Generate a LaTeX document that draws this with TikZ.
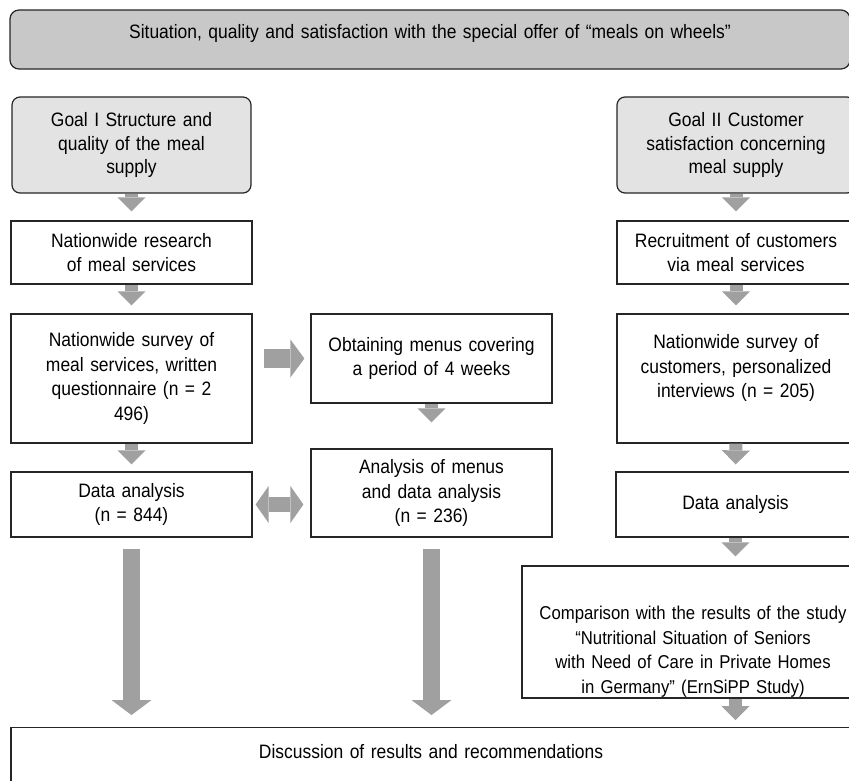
\documentclass[tikz,border=0pt]{standalone}
\usepackage{fontspec}
\setmainfont[FakeStretch=0.9]{Liberation Sans}
\usetikzlibrary{arrows.meta}
\definecolor{topgray}{HTML}{C8C8C8}
\definecolor{goalgray}{HTML}{E3E3E3}
\definecolor{arrgray}{HTML}{A0A0A0}
\definecolor{edgec}{HTML}{262626}
\newcommand{\boxfont}{\fontsize{19.4}{24.5}\selectfont}
\newcommand{\goalfont}{\fontsize{19.4}{23.5}\selectfont}
\newcommand{\compfont}{\fontsize{18.6}{24.8}\selectfont}
\tikzset{
  box/.style={draw=edgec, line width=1.2pt, fill=white, inner sep=0pt, align=center, font=\boxfont},
  goalbox/.style={box, fill=goalgray, rounded corners=8pt, font=\goalfont},
  varr/.style={draw=arrgray, line width=13pt, -{Triangle[length=14pt 0 0, width=28pt 0 0, line width=0pt 0 0]}},
  larr/.style={draw=arrgray, line width=17pt, -{Triangle[length=15pt 0 0, width=40pt 0 0, line width=0pt 0 0]}},
  harr/.style={draw=arrgray, line width=19pt, -{Triangle[length=14pt 0 0, width=38pt 0 0, line width=0pt 0 0]}},
  darr/.style={draw=arrgray, line width=15pt, {Triangle[length=13pt 0 0, width=37pt 0 0, line width=0pt 0 0]}-{Triangle[length=13pt 0 0, width=37pt 0 0, line width=0pt 0 0]}},
}
\begin{document}
\begin{tikzpicture}[x=1pt,y=-1pt]
\useasboundingbox (0,0) rectangle (849,780);
\clip (0,0) rectangle (849,780);
\fill[white] (0,0) rectangle (849,780);

\node[box, fill=topgray, rounded corners=9pt, minimum width=840pt, minimum height=59pt, text width=830pt] (top) at (430,39.5)
  {Situation, quality and satisfaction with the special offer of “meals on wheels”\rule[-17pt]{0pt}{0pt}};

\node[goalbox, minimum width=239pt, minimum height=96pt, text width=230pt] (g1) at (131.5,145)
  {Goal I Structure and\\ quality of the meal\\ supply};
\node[goalbox, minimum width=238pt, minimum height=96pt, text width=230pt] (g2) at (736,145)
  {Goal II Customer\\ satisfaction concerning\\ meal supply};

\node[box, minimum width=241pt, minimum height=63pt, text width=230pt] (res) at (131.5,252.5)
  {Nationwide research\\ of meal services};
\node[box, minimum width=238pt, minimum height=63pt, text width=230pt] (rec) at (736,252.5)
  {Recruitment of customers\\ via meal services};

\node[box, minimum width=241pt, minimum height=129pt, text width=230pt] (sur) at (131.5,378.5)
  {Nationwide survey of\\ meal services, written\\ questionnaire (n = 2\\ 496)};
\node[box, minimum width=241pt, minimum height=89pt, text width=230pt] (obt) at (431.5,358.5)
  {Obtaining menus covering\\ a period of 4 weeks};
\node[box, minimum width=238pt, minimum height=129pt, text width=230pt] (csur) at (736,378.5)
  {Nationwide survey of\\ customers, personalized\\ interviews (n = 205)\rule[-25pt]{0pt}{0pt}};

\node[box, minimum width=241pt, minimum height=65pt, text width=230pt] (dl) at (131.5,504.5)
  {Data analysis\\ (n = 844)};
\node[box, minimum width=241pt, minimum height=88pt, text width=230pt] (am) at (431.5,493)
  {Analysis of menus\\ and data analysis\\ (n = 236)};
\node[box, minimum width=239pt, minimum height=65pt, text width=230pt] (dr) at (735.5,504.5)
  {Data analysis};

\node[box, font=\compfont, minimum width=342pt, minimum height=132pt, text width=320pt] (comp) at (693,632)
  {\rule{0pt}{53pt}Comparison with the results of the study\\ “Nutritional Situation of Seniors\\ with Need of Care in Private Homes\\ in Germany” (ErnSiPP Study)};

\node[box, anchor=north, minimum width=840pt, text width=830pt, inner ysep=19pt, text height=12pt, text depth=40pt] (disc) at (431,727)
  {Discussion of results and recommendations};

% connectors
\draw[varr, shorten >=9pt] (g1.south) -- (res.north);
\draw[varr, shorten >=8pt] (res.south) -- (sur.north);
\draw[varr, shorten >=7pt] (sur.south) -- (dl.north);
\draw[harr, shorten <=11pt, shorten >=6pt] (sur.east |- obt.west) -- (obt.west);
\draw[varr, shorten >=26pt] (obt.south) -- (am.north);
\draw[darr, shorten <=3pt, shorten >=7pt] (dl.east) -- (dl.east -| am.west);

\draw[varr, shorten >=9pt] (g2.south) -- (rec.north);
\draw[varr, shorten >=8pt] (rec.south) -- (csur.north);
\draw[varr, shorten >=7pt] (csur.south) -- (dr.north);
\draw[varr, shorten >=9pt] (dr.south) -- (dr.south |- comp.north);
\draw[varr, shorten >=7pt] (dr.south |- comp.south) -- (dr.south |- disc.north);

\draw[larr, shorten <=11pt, shorten >=12pt] (dl.south) -- (dl.south |- disc.north);
\draw[larr, shorten <=11pt, shorten >=12pt] (am.south) -- (am.south |- disc.north);
\end{tikzpicture}
\end{document}
